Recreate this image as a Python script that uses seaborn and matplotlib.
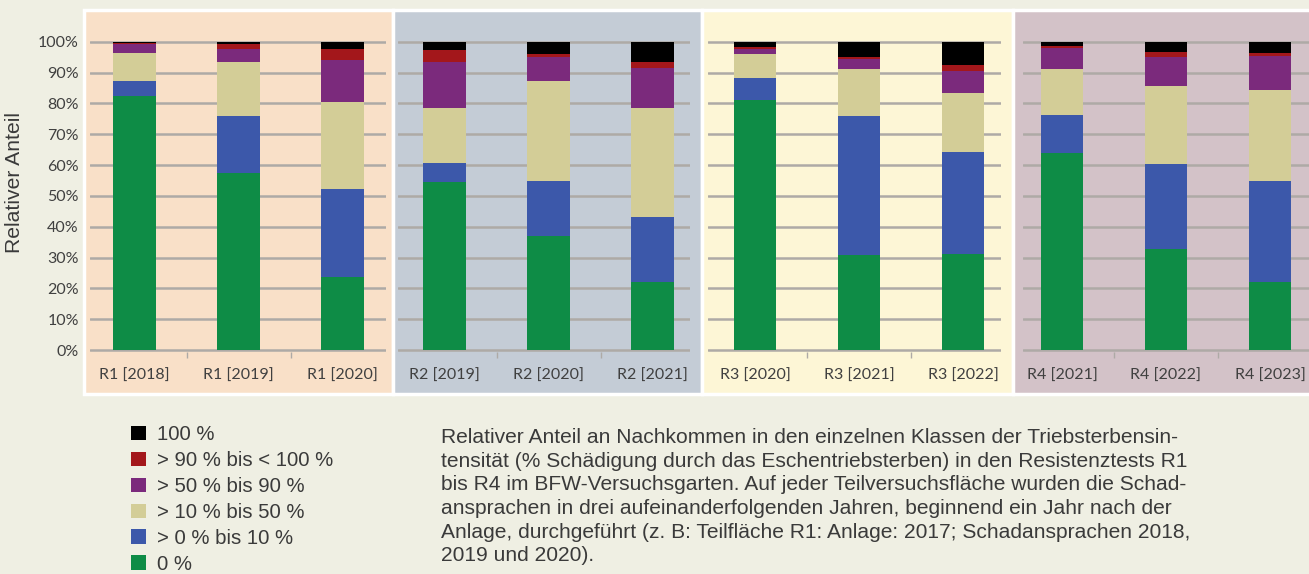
import pandas as pd
import matplotlib.pyplot as plt
import seaborn as sns
from matplotlib.patches import Rectangle, Patch

# categories per panel
panel_labels = [
    ['R1 [2018]', 'R1 [2019]', 'R1 [2020]'],
    ['R2 [2019]', 'R2 [2020]', 'R2 [2021]'],
    ['R3 [2020]', 'R3 [2021]', 'R3 [2022]'],
    ['R4 [2021]', 'R4 [2022]', 'R4 [2023]'],
]

# damage classes, bottom to top
classes = ['0 %', '> 0 % bis 10 %', '> 10 % bis 50 %', '> 50 % bis 90 %',
           '> 90 % bis < 100 %', '100 %']
class_colors = ['#0e8c46', '#3c58aa', '#d3cd97', '#7b2a7c', '#a3171b', '#000000']

# share (%) per class, one list per panel (three years each)
cls_0 = [[82.4, 57.3, 23.6], [54.6, 37.0, 22.2], [81.1, 30.8, 31.1], [63.8, 32.9, 22.1]]
cls_0_10 = [[4.8, 18.7, 28.5], [5.9, 17.8, 20.8], [7.0, 45.2, 33.2], [12.3, 27.3, 32.7]]
cls_10_50 = [[9.0, 17.5, 28.2], [17.9, 32.4, 35.6], [7.8, 15.0, 18.9], [15.1, 25.4, 29.4]]
cls_50_90 = [[3.2, 4.1, 13.8], [14.9, 7.9, 12.8], [1.7, 3.3, 7.4], [6.9, 9.5, 11.2]]
cls_90_100 = [[0.3, 1.5, 3.4], [4.0, 0.9, 2.1], [0.7, 0.8, 2.0], [0.5, 1.7, 0.8]]
cls_100 = [[0.3, 0.9, 2.5], [2.7, 4.0, 6.5], [1.7, 4.9, 7.4], [1.4, 3.2, 3.8]]

panel_colors = ['#f9e0c8', '#c4ccd6', '#fdf6d6', '#d3c2c8']

caption = ("Relativer Anteil an Nachkommen in den einzelnen Klassen der Triebsterbensin-\n"
           "tensität (% Schädigung durch das Eschentriebsterben) in den Resistenztests R1\n"
           "bis R4 im BFW-Versuchsgarten. Auf jeder Teilversuchsfläche wurden die Schad-\n"
           "ansprachen in drei aufeinanderfolgenden Jahren, beginnend ein Jahr nach der\n"
           "Anlage, durchgeführt (z. B: Teilfläche R1: Anlage: 2017; Schadansprachen 2018,\n"
           "2019 und 2020).")

W, H = 1309, 574
BG = '#efefe3'
GRID = '#aeaaa6'
TXT = '#404040'

sns.set_theme(style='white')
plt.rcParams['font.family'] = ['Lato', 'DejaVu Sans']

fig = plt.figure(figsize=(W / 100, H / 100), dpi=100, facecolor=BG)


def px_box(x0, y0, x1, y1):
    # pixel box (top-left origin) -> figure fraction [left, bottom, width, height]
    return [x0 / W, 1 - y1 / H, (x1 - x0) / W, (y1 - y0) / H]


# panel backgrounds with white frames (behind the axes)
panel_px = [(84, 10, 393, 394), (393, 10, 702, 394), (702, 10, 1013, 394), (1013, 10, 1320, 394)]
for (x0, y0, x1, y1), col in zip(panel_px, panel_colors):
    b = px_box(x0, y0, x1, y1)
    fig.patches.append(Rectangle((b[0], b[1]), b[2], b[3], transform=fig.transFigure,
                                 facecolor=col, edgecolor='white', linewidth=2.5, zorder=-1))

# axes geometry: first bar centre, left/right ends of grid, px per category
spacing = 104.0
first_centre = [134.5, 444.7, 755.0, 1062.0]
grid_ends = [(90, 386), (398, 690), (708, 1001), (1023, 1330)]
y100, y0 = 41.7, 350.0
ppu = (y0 - y100) / 100.0
pad = 0.6

series = [cls_0, cls_0_10, cls_10_50, cls_50_90, cls_90_100, cls_100]

for p in range(4):
    rows = []
    for k, cls in enumerate(classes):
        for j, lab in enumerate(panel_labels[p]):
            rows.append({'label': lab, 'cls': cls, 'k': k, 'value': series[k][p][j]})
    df = pd.DataFrame(rows)
    df['cum'] = df.groupby('label')['value'].cumsum()

    gl, gr = grid_ends[p]
    c0 = first_centre[p]
    ax = fig.add_axes(px_box(gl, y100 - pad * ppu, gr, y0 + pad * ppu))
    ax.patch.set_alpha(0)

    # draw cumulative totals from top class down so lower classes overlay
    for k in range(len(classes) - 1, -1, -1):
        sub = df[df['k'] == k]
        sns.barplot(data=sub, x='label', y='cum', order=panel_labels[p],
                    color=class_colors[k], saturation=1, width=0.41,
                    errorbar=None, ax=ax, zorder=3, linewidth=0)

    ax.set_xlim((gl - c0) / spacing, (gr - c0) / spacing)
    ax.set_ylim(-pad, 100 + pad)
    ax.set_yticks(range(0, 101, 10))
    ax.yaxis.grid(True, color=GRID, linewidth=1.8)
    ax.set_axisbelow(True)
    for s in ax.spines.values():
        s.set_visible(False)
    ax.set_xlabel('')
    ax.set_ylabel('')
    ax.set_xticks([0.5, 1.5], minor=True)
    ax.tick_params(axis='x', which='minor', length=4, width=1, color=GRID, direction='out', bottom=True)
    ax.tick_params(axis='x', which='major', length=0, pad=12, labelsize=11.5, labelcolor=TXT)
    if p == 0:
        ax.set_yticks(range(0, 101, 10), [f'{v}%' for v in range(0, 101, 10)])
        ax.tick_params(axis='y', length=0, pad=8, labelsize=11.5, labelcolor=TXT)
    else:
        ax.tick_params(axis='y', length=0, labelleft=False)

fig.text(15 / W, 1 - 182 / H, 'Relativer Anteil', rotation=90, ha='center', va='center',
         fontsize=15.2, color='#3a3a3a', family=['Liberation Sans', 'DejaVu Sans'])

# legend, top class first
handles = [Patch(facecolor=class_colors[k], edgecolor='none') for k in range(len(classes) - 1, -1, -1)]
labels = [classes[k] for k in range(len(classes) - 1, -1, -1)]
fig.legend(handles, labels, loc='upper left', bbox_to_anchor=(131 / W, 1 - 425 / H),
           frameon=False, handlelength=0.72, handleheight=0.7, handletextpad=0.55,
           labelspacing=0.34, borderaxespad=0, borderpad=0,
           prop={'family': ['Liberation Sans', 'DejaVu Sans'], 'size': 14.7},
           labelcolor='#3a3a3a')

fig.text(441 / W, 1 - 428 / H, caption, ha='left', va='top', fontsize=15.1,
         color='#3a3a3a', linespacing=1.31, family=['Liberation Sans', 'DejaVu Sans'])

fig.savefig('out.png', dpi=100, facecolor=BG)
